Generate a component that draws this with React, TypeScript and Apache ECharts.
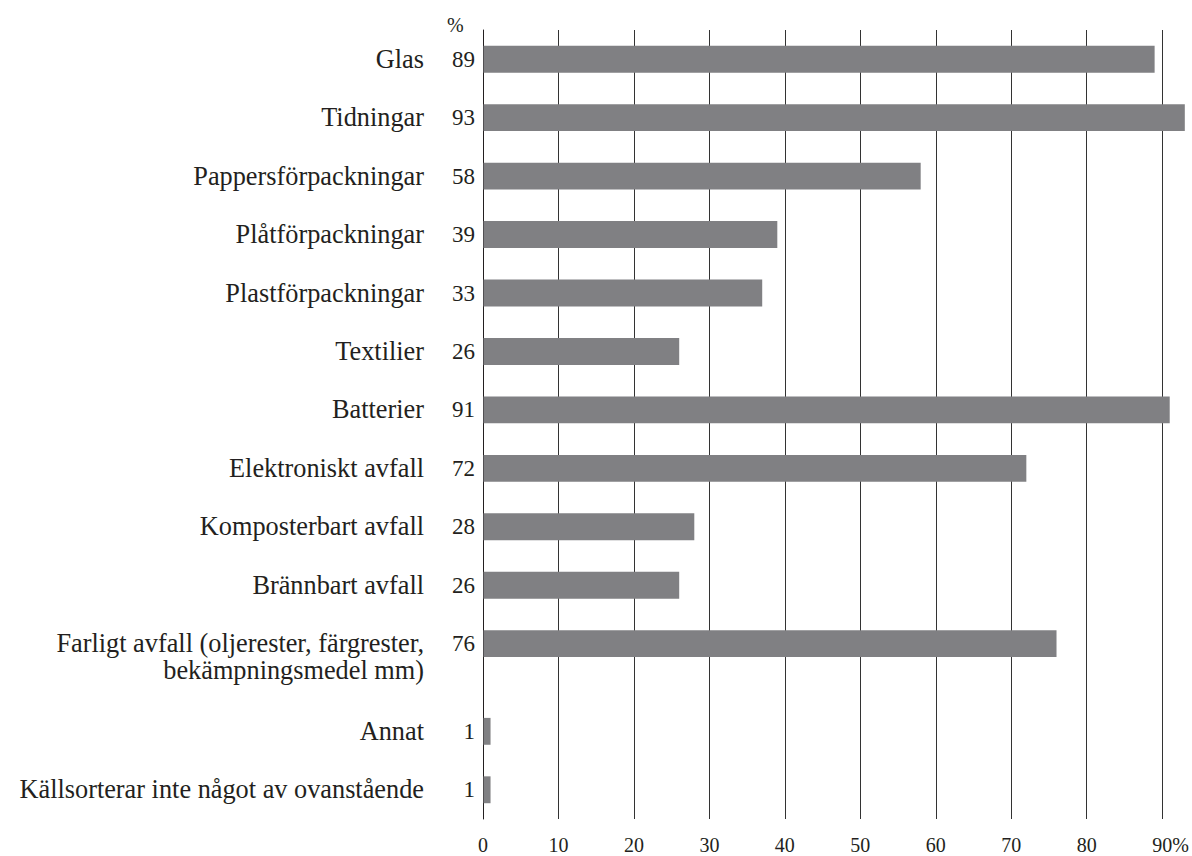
import React, { useEffect, useRef } from "react";
import * as echarts from "echarts";

const categories = [
  "Glas",
  "Tidningar",
  "Pappersförpackningar",
  "Plåtförpackningar",
  "Plastförpackningar",
  "Textilier",
  "Batterier",
  "Elektroniskt avfall",
  "Komposterbart avfall",
  "Brännbart avfall",
  "Farligt avfall (oljerester, färgrester,\nbekämpningsmedel mm)",
  "Annat",
  "Källsorterar inte något av ovanstående",
];
// bar lengths as drawn in the picture
const values = [89, 93, 58, 39, 37, 26, 91, 72, 28, 26, 76, 1, 1];
// numbers printed beside the bars
const valueLabels = ["89", "93", "58", "39", "33", "26", "91", "72", "28", "26", "76", "1", "1"];
// an extra half row of space is left before this category
const gapBefore = "Annat";
const xTicks = [0, 10, 20, 30, 40, 50, 60, 70, 80, 90];
const unitLabel = "%";

const FONT = "Liberation Serif";
const TEXT = "#231f20";
const BAR = "#808083";

export default function App() {
  const ref = useRef<HTMLDivElement>(null);
  useEffect(() => {
    if (!ref.current) return;
    const chart = echarts.init(ref.current, undefined, { renderer: "svg" });
    const gapIndex = categories.indexOf(gapBefore);
    const positions = categories.map((_, i) => (i >= gapIndex ? i + 0.5 : i));
    const data = values.map((v, i) => [v, positions[i]]);
    const last = xTicks[xTicks.length - 1];

    chart.setOption({
      animation: false,
      textStyle: { fontFamily: FONT },
      grid: { left: 483, right: 28, top: 30, bottom: 37 },
      xAxis: {
        type: "value",
        min: xTicks[0],
        max: last,
        interval: xTicks[1] - xTicks[0],
        axisLine: { show: false },
        axisTick: { show: false },
        splitLine: { show: true, lineStyle: { color: "#333333", width: 1 } },
        axisLabel: {
          margin: 16,
          fontFamily: FONT,
          fontSize: 20,
          color: TEXT,
          formatter: (v: number) => (v === last ? "{pad| }" + v + unitLabel : String(v)),
          rich: { pad: { width: 17, fontFamily: FONT, fontSize: 20 } },
        },
      },
      yAxis: {
        type: "value",
        inverse: true,
        min: -0.5,
        max: positions[positions.length - 1] + 0.5,
        axisLine: { show: true, lineStyle: { color: TEXT, width: 1 } },
        axisTick: { show: false },
        axisLabel: { show: false },
        splitLine: { show: false },
      },
      graphic: [
        {
          type: "text",
          left: 447,
          top: 15,
          style: { text: unitLabel, fontFamily: FONT, fontSize: 20, fill: TEXT },
        },
      ],
      series: [
        {
          type: "custom",
          clip: false,
          data,
          renderItem: (params: any, api: any) => {
            const v = api.value(0);
            const p = api.value(1);
            const s = api.coord([0, p]);
            const e = api.coord([v, p]);
            const h = api.size([0, 1])[1] * 0.46;
            return {
              type: "group",
              children: [
                {
                  type: "rect",
                  shape: { x: s[0] + 0.5, y: s[1] - h / 2, width: e[0] - s[0] - 0.5, height: h },
                  style: { fill: BAR },
                },
                {
                  type: "text",
                  x: s[0] - 8,
                  y: s[1],
                  style: {
                    text: valueLabels[params.dataIndex],
                    align: "right",
                    verticalAlign: "middle",
                    fontFamily: FONT,
                    fontSize: 23,
                    fill: TEXT,
                  },
                },
                {
                  type: "text",
                  x: s[0] - 59,
                  y: s[1] - 13.5,
                  style: {
                    text: categories[params.dataIndex],
                    align: "right",
                    verticalAlign: "top",
                    fontFamily: FONT,
                    fontSize: 26.3,
                    lineHeight: 27,
                    fill: TEXT,
                  },
                },
              ],
            };
          },
        },
      ],
    });
    return () => chart.dispose();
  }, []);
  return (
    <div
      ref={ref}
      style={{ position: "fixed", left: 0, top: 0, width: 1192, height: 856, background: "#fff" }}
    />
  );
}
